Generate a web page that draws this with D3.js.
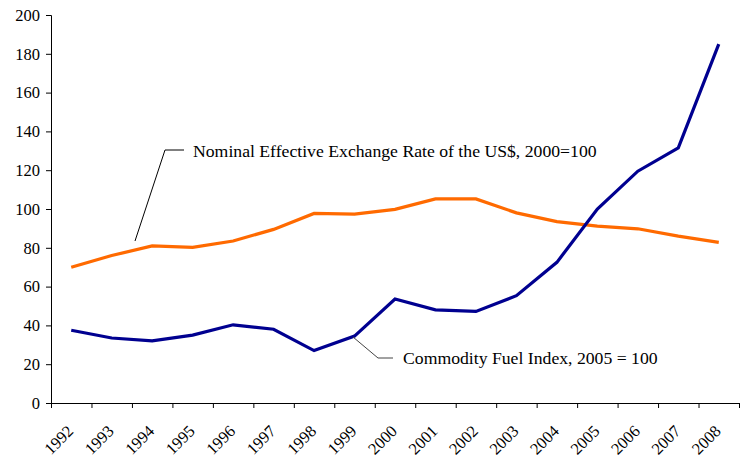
<!DOCTYPE html>
<html>
<head>
<meta charset="utf-8">
<script src="https://cdn.jsdelivr.net/npm/d3@7"></script>
<style>
  body { margin: 0; background: #fff; }
</style>
</head>
<body>
<div id="chart"></div>
<script>
// years on the x axis
var years = ['1992', '1993', '1994', '1995', '1996', '1997', '1998', '1999', '2000',
    '2001', '2002', '2003', '2004', '2005', '2006', '2007', '2008'];

// Nominal Effective Exchange Rate of the US$, 2000=100
var exchangeRate = [70, 76, 81, 80.2, 83.5, 89.5, 97.7, 97.4, 99.8, 105.2, 105.2, 98, 93.5, 91.2, 89.8, 86, 82.8];

// Commodity Fuel Index, 2005 = 100
var fuelIndex = [37.5, 33.5, 32, 35, 40.3, 38, 27, 34.5, 53.6, 48, 47.2, 55.3, 72.5, 100, 119.5, 131.5, 185];

var yTicks = [0, 20, 40, 60, 80, 100, 120, 140, 160, 180, 200];

var serif = '"Liberation Serif", "Times New Roman", serif';

var svgWidth = 740;
var svgHeight = 460;

var margin = { top: 15, right: 1, bottom: 57, left: 51 };
var width = svgWidth - margin.left - margin.right;
var height = svgHeight - margin.top - margin.bottom;

var svg = d3.select('#chart')
    .append('svg')
    .attr('width', svgWidth)
    .attr('height', svgHeight);

var chartGroup = svg.append('g')
    .attr('transform', `translate(${margin.left}, ${margin.top})`);

// scales
var xScale = d3.scaleBand()
    .domain(years)
    .range([0, width]);

var yScale = d3.scaleLinear()
    .domain([0, 200])
    .range([height, 0]);

var xMid = d => xScale(d) + xScale.bandwidth() / 2;

// y axis
var yAxis = chartGroup.append('g')
    .call(d3.axisLeft(yScale).tickValues(yTicks).tickSize(5).tickPadding(6));
yAxis.select('.domain').attr('stroke', '#000');
yAxis.selectAll('text')
    .style('font-family', serif)
    .style('font-size', '16.5px')
    .attr('fill', '#000');

// x axis, ticks sit on the band edges
var xAxis = chartGroup.append('g')
    .attr('transform', `translate(0, ${height})`)
    .call(d3.axisBottom(d3.scaleLinear().domain([0, years.length]).range([0, width]))
        .ticks(years.length).tickSize(5).tickFormat(''));
xAxis.select('.domain').attr('stroke', '#000');

chartGroup.append('g')
    .selectAll('text')
    .data(years)
    .enter()
    .append('text')
    .attr('transform', d => `translate(${xMid(d) - 5}, ${height + 21}) rotate(-45)`)
    .attr('text-anchor', 'end')
    .attr('dy', '0.7em')
    .style('font-family', serif)
    .style('font-size', '16.5px')
    .text(d => d);

// lines
var line = d3.line()
    .x((d, i) => xMid(years[i]))
    .y(d => yScale(d));

chartGroup.append('path')
    .datum(exchangeRate)
    .attr('d', line)
    .attr('fill', 'none')
    .attr('stroke', '#ff6a00')
    .attr('stroke-width', 3.2);

chartGroup.append('path')
    .datum(fuelIndex)
    .attr('d', line)
    .attr('fill', 'none')
    .attr('stroke', '#000090')
    .attr('stroke-width', 3.2);

// annotations (in svg pixels)
svg.append('polyline')
    .attr('points', '135,241 165,150 184,150')
    .attr('fill', 'none')
    .attr('stroke', '#000')
    .attr('stroke-width', 1);

svg.append('text')
    .attr('x', 193)
    .attr('y', 157)
    .style('font-family', serif)
    .style('font-size', '17.7px')
    .text('Nominal Effective Exchange Rate of the US$, 2000=100');

svg.append('polyline')
    .attr('points', '353,337 378,358 393,358')
    .attr('fill', 'none')
    .attr('stroke', '#444')
    .attr('stroke-width', 1);

svg.append('text')
    .attr('x', 403)
    .attr('y', 364)
    .style('font-family', serif)
    .style('font-size', '17.7px')
    .text('Commodity Fuel Index, 2005 = 100');
</script>
</body>
</html>
